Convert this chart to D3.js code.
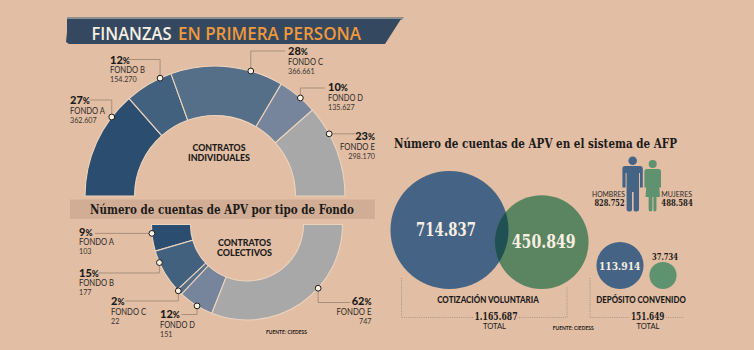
<!DOCTYPE html>
<html>
<head>
<meta charset="utf-8">
<script src="https://cdn.jsdelivr.net/npm/d3@7"></script>
<style>
  html, body { margin: 0; padding: 0; background: #e2bea4; overflow: hidden; }
  svg { display: block; }
  text { font-family: Lato, "Open Sans", sans-serif; }
  .serif { font-family: "DejaVu Serif", serif; font-weight: 700; }
</style>
</head>
<body>
<div id="chart"></div>
<script>
// Datos de los dos semicirculos
const FONDOS = ["FONDO A", "FONDO B", "FONDO C", "FONDO D", "FONDO E"];
const PCT_INDIV = [27, 12, 28, 10, 23];
const CUENTAS_INDIV = ["362.607", "154.270", "366.661", "135.627", "298.170"];
const PCT_COLEC = [9, 15, 2, 12, 62];
const CUENTAS_COLEC = ["103", "177", "22", "151", "747"];

// Datos de las burbujas
const VOLUNTARIA = [714837, 450849];
const CONVENIDO = [113914, 37734];
const TOTAL_VOLUNTARIA = "1.165.687";
const TOTAL_CONVENIDO = "151.649";
const GENERO = ["HOMBRES", "MUJERES"];
const GENERO_VAL = ["828.752", "488.584"];

const fmtMiles = v => d3.format(",d")(v).replace(/,/g, ".");

const width = 754, height = 350;
const BG = "#e2bea4", INK = "#1d1b1a", CREAM = "#f7efe3";
const AZUL = "#456485", VERDE = "#5b8460", VERDE2 = "#5f9370";
const colorFondo = d3.scaleOrdinal().domain(FONDOS)
  .range(["#2b4e70", "#41617f", "#566f88", "#76859b", "#a8a8a9"]);

const svg = d3.select("#chart").append("svg")
  .attr("width", width).attr("height", height);
svg.append("rect").attr("width", width).attr("height", height).attr("fill", BG);

function label(x, y, txt, size, opt = {}) {
  const t = svg.append("text").attr("x", x).attr("y", y)
    .attr("font-size", size)
    .attr("fill", opt.fill || INK)
    .attr("text-anchor", opt.anchor || "start")
    .attr("font-weight", opt.weight || 400)
    .text(txt);
  if (opt.cls) t.attr("class", opt.cls);
  if (opt.len) t.attr("textLength", opt.len).attr("lengthAdjust", "spacingAndGlyphs");
  return t;
}

// Cinta del titulo
svg.append("path").attr("d", "M67,17H404L402,20H67Z").attr("fill", "#8f8f8f");
svg.append("path").attr("d", "M67,19H401L385,44H69L66,42L67,32Z").attr("fill", "#34495f");
label(91.5, 40, "FINANZAS", 17.5, { fill: CREAM, weight: 600, len: 80 })
  .style("font-family", "'Open Sans'");
label(178, 40, "EN PRIMERA PERSONA", 17.5, { fill: "#f0983c", weight: 600, len: 183 })
  .style("font-family", "'Open Sans'");

// Semicirculo con su anotacion: el punto se ubica sobre el borde de cada tramo
function semi(cfg) {
  const pie = d3.pie().sort(null).value(d => d.pct)
    .startAngle(cfg.a0).endAngle(cfg.a1);
  const rows = FONDOS.map((f, i) => ({ f, pct: cfg.pct[i], n: cfg.n[i], c: cfg.call[i] }));
  const arc = d3.arc().innerRadius(cfg.r0).outerRadius(cfg.r1);
  const g = svg.append("g").attr("transform", `translate(${cfg.cx},${cfg.cy})`);
  const arcs = pie(rows);
  g.selectAll("path").data(arcs).join("path")
    .attr("d", arc)
    .attr("fill", d => colorFondo(d.data.f))
    .attr("stroke", "#ecd3bd").attr("stroke-width", 1.1);

  arcs.forEach(d => {
    const c = d.data.c;
    const ang = d.startAngle + (d.endAngle - d.startAngle) * c.t;
    const px = cfg.cx + cfg.r1 * Math.sin(ang);
    const py = cfg.cy - cfg.r1 * Math.cos(ang);
    const pts = [[px, py]];
    if (c.ly != null) pts.push([px, c.ly]);
    pts.push([c.lx, c.ly != null ? c.ly : py]);
    svg.append("path").attr("d", d3.line()(pts))
      .attr("fill", "none").attr("stroke", "#a98f7b").attr("stroke-width", 1);
    svg.append("circle").attr("cx", px).attr("cy", py).attr("r", 2.9)
      .attr("fill", "#fbf1e3").attr("stroke", "#1d1b1a").attr("stroke-width", 1);

    const t = label(c.x, c.y, d.data.pct, 11, { weight: 900, anchor: c.anchor });
    t.append("tspan").attr("font-size", 8.5).text("%");
    label(c.x, c.y + c.d1, d.data.f, 9, { anchor: c.anchor, fill: "#2e2a28", len: 35 });
    label(c.x, c.y + c.d2, d.data.n, 7.2, { anchor: c.anchor, fill: "#3a3532" });
  });
}

semi({
  cx: 215, cy: 196, r0: 80.5, r1: 130,
  a0: -Math.PI / 2, a1: Math.PI / 2,
  pct: PCT_INDIV, n: CUENTAS_INDIV,
  call: [
    { t: .77, ly: 100, lx: 90, x: 70, y: 104, d1: 10, d2: 19 },
    { t: .76, ly: 59.5, lx: 128, x: 110, y: 63.5, d1: 9, d2: 18 },
    { t: .71, ly: 51, lx: 285, x: 288, y: 55, d1: 10, d2: 19 },
    { t: .58, ly: 88, lx: 325, x: 328, y: 91, d1: 10, d2: 19 },
    { t: .31, lx: 355, x: 375, y: 140, anchor: "end", d1: 10, d2: 19 }
  ]
});

semi({
  cx: 247, cy: 224.5, r0: 56.5, r1: 95.5,
  a0: -Math.PI / 2, a1: -3 * Math.PI / 2,
  pct: PCT_COLEC, n: CUENTAS_COLEC,
  call: [
    { t: .33, lx: 95, x: 79, y: 235.5, d1: 9.5, d2: 18.5 },
    { t: .27, ly: 273, lx: 98, x: 79, y: 276.5, d1: 9, d2: 18.5 },
    { t: .22, ly: 301, lx: 125, x: 111, y: 304.5, d1: 10, d2: 19 },
    { t: .54, ly: 314.5, lx: 181.5, x: 160, y: 318, d1: 9.5, d2: 18.5 },
    { t: .625, ly: 302.5, lx: 350, x: 371.5, y: 304.5, anchor: "end", d1: 10, d2: 19 }
  ]
});

// Franja sobre los semicirculos
svg.append("rect").attr("x", 70).attr("y", 199.5).attr("width", 305).attr("height", 19.5)
  .attr("fill", "#d0ad94");
label(90, 213.5, "Número de cuentas de APV por tipo de Fondo", 12.8, { cls: "serif", len: 264 });

label(219, 151, "CONTRATOS", 10, { weight: 900, anchor: "middle", len: 53 });
label(219, 160.8, "INDIVIDUALES", 10, { weight: 900, anchor: "middle", len: 62 });
label(244.5, 246, "CONTRATOS", 10, { weight: 900, anchor: "middle", len: 53 });
label(244.5, 256.3, "COLECTIVOS", 10, { weight: 900, anchor: "middle", len: 55 });
label(266, 334, "FUENTE: CIEDESS", 5.6, { weight: 700, len: 41 });

// Burbujas: radio proporcional al area, apoyadas en la misma linea
label(394, 147.5, "Número de cuentas de APV en el sistema de AFP", 12.8, { cls: "serif", len: 283 });

const rScale = d3.scaleSqrt().domain([0, d3.max(VOLUNTARIA)]).range([0, 59]);
const baseY = 289;
const burbuja = (cx, v, fill) => svg.append("circle")
  .attr("cx", cx).attr("cy", baseY - rScale(v)).attr("r", rScale(v)).attr("fill", fill);

burbuja(449.5, VOLUNTARIA[0], AZUL);
burbuja(541.7, VOLUNTARIA[1], VERDE);
svg.append("clipPath").attr("id", "cruce").append("circle")
  .attr("cx", 449.5).attr("cy", baseY - rScale(VOLUNTARIA[0])).attr("r", rScale(VOLUNTARIA[0]));
burbuja(541.7, VOLUNTARIA[1], "#1f5053").attr("clip-path", "url(#cruce)");
burbuja(620, CONVENIDO[0], AZUL);
burbuja(663, CONVENIDO[1], VERDE2);

label(446, 236, fmtMiles(VOLUNTARIA[0]), 19, { cls: "serif", fill: CREAM, anchor: "middle", len: 60 });
label(543.7, 248, fmtMiles(VOLUNTARIA[1]), 19, { cls: "serif", fill: CREAM, anchor: "middle", len: 64 });
label(619.7, 270, fmtMiles(CONVENIDO[0]), 11.5, { cls: "serif", fill: CREAM, anchor: "middle", len: 41.5 });
label(665, 260, fmtMiles(CONVENIDO[1]), 9, { cls: "serif", anchor: "middle", len: 26 });

label(488, 302.7, "COTIZACIÓN VOLUNTARIA", 9, { weight: 900, anchor: "middle", len: 101.5 });
label(641, 302.7, "DEPÓSITO CONVENIDO", 9, { weight: 900, anchor: "middle", len: 89.5 });
label(496, 320, TOTAL_VOLUNTARIA, 10.5, { cls: "serif", anchor: "middle", len: 43 });
label(494.5, 329, "TOTAL", 7.6, { anchor: "middle" });
label(647.7, 320, TOTAL_CONVENIDO, 10.5, { cls: "serif", anchor: "middle", len: 33.5 });
label(648, 329, "TOTAL", 7.6, { anchor: "middle" });
label(552.7, 330, "FUENTE: CIEDESS", 5.6, { weight: 700, len: 41 });

// Llaves punteadas
const punteado = d => svg.append("path").attr("d", d).attr("fill", "none")
  .attr("stroke", "#a08a78").attr("stroke-width", 0.8).attr("stroke-dasharray", "1 1.2");
punteado("M401.5,278V317.5H473");
punteado("M519,317.5H567V286.5");
punteado("M590,278V317.5H629");
punteado("M666,317.5H684");

// Siluetas
svg.append("circle").attr("cx", 632.7).attr("cy", 160.7).attr("r", 4.3).attr("fill", AZUL);
svg.append("path").attr("fill", AZUL)
  .attr("d", "M625,166H640.5Q642.8,166 642.8,168.5V187.5H640V173H639V190V209.5Q639,211.5 636.5,211.5Q633.6,211.5 633.6,209.5V192H632V209.5Q632,211.5 629,211.5Q626.6,211.5 626.6,209.5V190V173H625.6V187.5H622.4V168.5Q622.4,166 625,166Z");
svg.append("circle").attr("cx", 652.7).attr("cy", 164).attr("r", 4).attr("fill", VERDE2);
svg.append("path").attr("fill", VERDE2)
  .attr("d", "M647,169H658.5Q661,169 661,171.5V187.5H658.5V175L660,197H656.5V209.5Q656.5,211.5 654.5,211.5Q653.4,211.5 653.4,209.5V197H652.4V209.5Q652.4,211.5 650.5,211.5Q648.6,211.5 648.6,209.5V197H645.5L647,175V187.5H644.4V171.5Q644.4,169 647,169Z");

label(625, 196.7, GENERO[0], 8.2, { anchor: "end", fill: "#2e2a28", len: 33 });
label(624.5, 206, GENERO_VAL[0], 9, { cls: "serif", anchor: "end", len: 30 });
label(661.3, 196.7, GENERO[1], 8.2, { fill: "#2e2a28", len: 30.7 });
label(661.3, 206, GENERO_VAL[1], 9, { cls: "serif", len: 31.5 });
</script>
</body>
</html>
